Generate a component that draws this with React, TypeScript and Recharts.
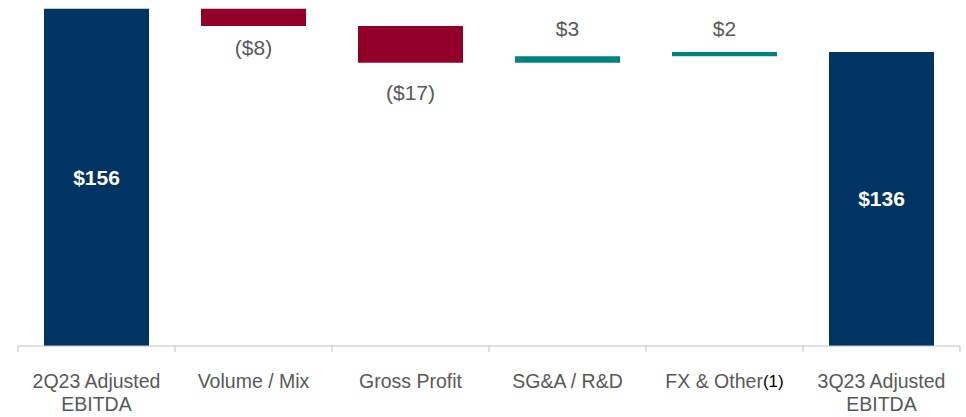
import { BarChart, Bar, XAxis, YAxis, LabelList, Cell } from 'recharts';

const CATEGORIES = ['2Q23 Adjusted\nEBITDA', 'Volume / Mix', 'Gross Profit', 'SG&A / R&D', 'FX & Other', '3Q23 Adjusted\nEBITDA'];
const FOOTNOTES = ['', '', '', '', '(1)', ''];
const START = 156;
const CHANGES = [-8, -17, 3, 2];
const END = 136;

// distance from bar edge to label centre, per bar
const LABEL_GAP = [0, 22, 30, 28, 23, 0];

const NAVY = '#003462';
const RED = '#92002A';
const TEAL = '#00827F';
const GREY = '#595959';
const FONT = '"Liberation Sans", Arial, sans-serif';

type Row = { name: string; base: number; size: number; value: number; kind: 'total' | 'up' | 'down' };

const rows: Row[] = [];
let running = START;
rows.push({ name: CATEGORIES[0], base: 0, size: START, value: START, kind: 'total' });
CHANGES.forEach((c, i) => {
  rows.push({
    name: CATEGORIES[i + 1],
    base: c < 0 ? running + c : running,
    size: Math.abs(c),
    value: c,
    kind: c < 0 ? 'down' : 'up',
  });
  running += c;
});
rows.push({ name: CATEGORIES[CATEGORIES.length - 1], base: 0, size: END, value: END, kind: 'total' });

const colorOf = (k: Row['kind']) => (k === 'total' ? NAVY : k === 'down' ? RED : TEAL);

const WIDTH = 966;
const HEIGHT = 417;
const MARGIN = { top: 0, right: 6, bottom: 0, left: 18 };
const BAND = (WIDTH - MARGIN.left - MARGIN.right) / CATEGORIES.length;

const AxisTick = (props: any) => {
  const { x, y, payload, index } = props;
  const lines = String(payload.value).split('\n');
  const note = FOOTNOTES[index] || '';
  return (
    <g>
      <line x1={x - BAND / 2} x2={x - BAND / 2} y1={y} y2={y + 6} stroke="#BFBFBF" />
      {index === CATEGORIES.length - 1 && (
        <line x1={x + BAND / 2} x2={x + BAND / 2} y1={y} y2={y + 6} stroke="#BFBFBF" />
      )}
      <text x={x} y={y + 35} textAnchor="middle" fill={GREY} fontSize={19.5} fontFamily={FONT} dominantBaseline="central">
        {lines.map((l, i) => (
          <tspan key={i} x={x} dy={i === 0 ? 0 : 23}>
            {l}
            {i === 0 && note ? <tspan fill="#000" fontSize={17}>{note}</tspan> : null}
          </tspan>
        ))}
      </text>
    </g>
  );
};

const ValueLabel = (props: any) => {
  const { x, y, width, height, index } = props;
  const row = rows[index];
  if (!row) return null;
  const cx = x + width / 2;
  if (row.kind === 'total') {
    return (
      <text x={cx} y={y + height / 2} textAnchor="middle" dominantBaseline="central" fill="#fff" fontWeight="bold" fontSize={21} fontFamily={FONT}>
        {`$${row.value}`}
      </text>
    );
  }
  const down = row.kind === 'down';
  const ly = down ? y + height + LABEL_GAP[index] : y - LABEL_GAP[index];
  return (
    <text x={cx} y={ly} textAnchor="middle" dominantBaseline="central" fill={GREY} fontSize={21} fontFamily={FONT}>
      {down ? `($${Math.abs(row.value)})` : `$${row.value}`}
    </text>
  );
};

export default function App() {
  return (
    <div style={{ position: 'absolute', left: 0, top: 0, background: '#fff' }}>
      <BarChart width={WIDTH} height={HEIGHT} data={rows} margin={MARGIN} barSize={105}>
        <XAxis
          dataKey="name"
          height={71}
          interval={0}
          axisLine={{ stroke: '#BFBFBF' }}
          tickLine={false}
          tickSize={0}
          tickMargin={0}
          tick={<AxisTick />}
        />
        <YAxis hide domain={[0, 160]} />
        <Bar dataKey="base" stackId="w" fill="transparent" isAnimationActive={false} />
        <Bar dataKey="size" stackId="w" isAnimationActive={false}>
          {rows.map((r, i) => (
            <Cell key={i} fill={colorOf(r.kind)} />
          ))}
          <LabelList dataKey="value" content={<ValueLabel />} />
        </Bar>
      </BarChart>
    </div>
  );
}
